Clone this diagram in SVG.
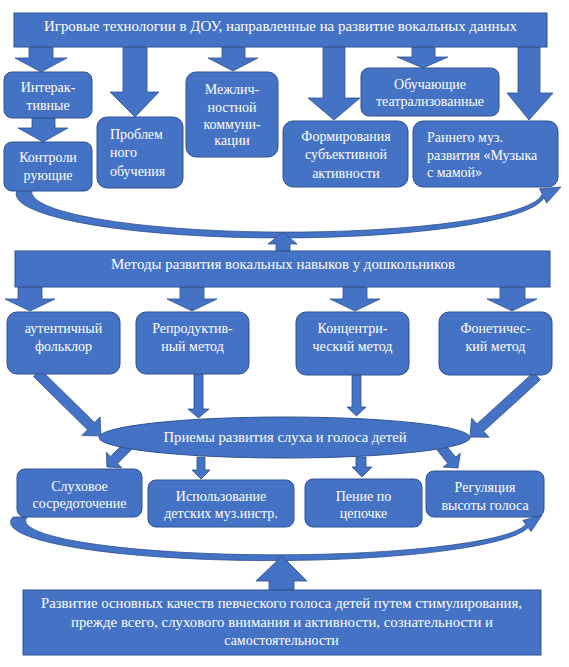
<svg xmlns="http://www.w3.org/2000/svg" width="569" height="667" viewBox="0 0 569 667">
<style>
.box{fill:#4472C4;stroke:#2F528F;stroke-width:1}
.arr{fill:#4472C4;stroke:#2F528F;stroke-width:0.8}
.t{font-family:'Liberation Serif','DejaVu Serif',serif;font-size:14px;fill:#ffffff}
.c{text-anchor:middle}
</style>
<rect width="569" height="667" fill="#ffffff"/>
<g id="connectors">
<path class="arr" d="M17 190 A264 44 0 0 0 544 197.7 L546.7 203 L561 187 L539.5 188.7 L542.2 194.1 A255 40 0 0 1 32 190 Z"/>
<path class="arr" d="M13 517 A258 38 0 0 0 528.2 527.6 L531.1 531.6 L542 515 L522.9 520.4 L525.8 524.4 A250 34 0 0 1 27 517 Z"/>
<path class="arr" d="M29 47 H53 V58 H67 L41 72 L15 58 H29 Z"/>
<path class="arr" d="M123 47 H147 V92 H159 L135 117 L110 92 H123 Z"/>
<path class="arr" d="M222 47 H245 V58 H258 L233 71 L208 58 H222 Z"/>
<path class="arr" d="M323 47 H345 V98 H360 L334 120 L308 98 H323 Z"/>
<path class="arr" d="M412 47 H435 V57 H448 L423 68 L397 57 H412 Z"/>
<path class="arr" d="M518 47 H540 V93 H553 L529 120 L507 93 H518 Z"/>
<path class="arr" d="M32 118 H55 V128 H68 L43 142 L18 128 H32 Z"/>
<path class="arr" d="M276 251 V244 H268 L283 232 L297 244 H290 V251 Z"/>
<path class="arr" d="M18 287 H42 V299 H55 L30 311 L5 299 H18 Z"/>
<path class="arr" d="M180 287 H204 V299 H217 L192 311 L167 299 H180 Z"/>
<path class="arr" d="M343 287 H367 V299 H380 L355 311 L330 299 H343 Z"/>
<path class="arr" d="M500 287 H525 V299 H537 L512 311 L487 299 H500 Z"/>
<path class="arr" d="M33.5 376.6 L87.5 429.8 L81.9 435.5 L101 436 L100.1 416.9 L94.5 422.6 L40.5 369.4 Z"/>
<path class="arr" d="M194 374 H203 V409 H209 L198.5 418 L188 409 H194 Z"/>
<path class="arr" d="M352 375 H361 V407 H366 L356.5 416 L347 407 H352 Z"/>
<path class="arr" d="M533.6 372.3 L477 423.9 L471.6 418 L470 437 L489.1 437.2 L483.7 431.3 L540.4 379.7 Z"/>
<path class="arr" d="M124.5 442.5 L110.5 456.4 L106.3 452.2 L107 467 L121.9 467.7 L117.6 463.5 L131.5 449.5 Z"/>
<path class="arr" d="M197 457 H205 V470 H210 L201 479 L192 470 H197 Z"/>
<path class="arr" d="M356 457 H366 V467 H372 L362 477 L352 467 H356 Z"/>
<path class="arr" d="M437.1 450.2 L447.8 463.4 L443.1 467.1 L458 468 L460.3 453.3 L455.6 457.1 L444.9 443.9 Z"/>
<path class="arr" d="M269 590 V581 H256 L282 556 L307 581 H294 V590 Z"/>
</g>
<g id="n-top">
<rect class="box" x="14" y="13" width="533" height="34"/>
<text class="t c" x="280.5" y="31" textLength="473" lengthAdjust="spacingAndGlyphs">Игровые технологии в ДОУ, направленные на развитие вокальных данных</text>
</g>
<g id="n-interakt">
<rect class="box" x="4" y="72" width="88" height="46" rx="8"/>
<text class="t c" x="48" y="92">Интерак-</text>
<text class="t c" x="48" y="110">тивные</text>
</g>
<g id="n-kontrol">
<rect class="box" x="4" y="142" width="88" height="49" rx="8"/>
<text class="t c" x="48" y="162">Контроли</text>
<text class="t c" x="48" y="180">рующие</text>
</g>
<g id="n-problem">
<rect class="box" x="97" y="117" width="86" height="71" rx="10"/>
<text class="t" x="110" y="139">Проблем</text>
<text class="t" x="110" y="157">ного</text>
<text class="t" x="110" y="176">обучения</text>
</g>
<g id="n-mezhlich">
<rect class="box" x="186" y="72" width="92" height="85" rx="10"/>
<text class="t c" x="232" y="94">Межлич-</text>
<text class="t c" x="232" y="112">ностной</text>
<text class="t c" x="232" y="129">коммуни-</text>
<text class="t c" x="232" y="145">кации</text>
</g>
<g id="n-form">
<rect class="box" x="283" y="121" width="125" height="66" rx="10"/>
<text class="t c" x="346" y="141">Формирования</text>
<text class="t c" x="346" y="159">субъективной</text>
<text class="t c" x="346" y="178">активности</text>
</g>
<g id="n-obuch">
<rect class="box" x="361" y="68" width="138" height="48" rx="8"/>
<text class="t c" x="430" y="89">Обучающие</text>
<text class="t c" x="430" y="106">театрализованные</text>
</g>
<g id="n-rannego">
<rect class="box" x="413" y="121" width="145" height="66" rx="10"/>
<text class="t" x="427" y="142">Раннего муз.</text>
<text class="t" x="427" y="160">развития «Музыка</text>
<text class="t" x="427" y="177">с мамой»</text>
</g>
<g id="n-metody">
<rect class="box" x="15" y="251" width="535" height="36"/>
<text class="t c" x="283" y="269" textLength="344" lengthAdjust="spacingAndGlyphs">Методы развития вокальных навыков у дошкольников</text>
</g>
<g id="n-autent">
<rect class="box" x="7" y="312" width="113" height="62" rx="10"/>
<text class="t c" x="63.5" y="333">аутентичный</text>
<text class="t c" x="63.5" y="351">фольклор</text>
</g>
<g id="n-reprod">
<rect class="box" x="136" y="312" width="113" height="62" rx="10"/>
<text class="t c" x="192.5" y="333">Репродуктив-</text>
<text class="t c" x="192.5" y="351">ный метод</text>
</g>
<g id="n-koncentr">
<rect class="box" x="296" y="312" width="113" height="63" rx="10"/>
<text class="t c" x="352.5" y="333">Концентри-</text>
<text class="t c" x="352.5" y="351">ческий метод</text>
</g>
<g id="n-fonet">
<rect class="box" x="439" y="312" width="113" height="63" rx="10"/>
<text class="t c" x="495.5" y="333">Фонетичес-</text>
<text class="t c" x="495.5" y="351">кий метод</text>
</g>
<g id="n-priemy">
<ellipse class="box" cx="284.5" cy="437.5" rx="185.5" ry="20.5"/>
<text class="t c" x="285" y="442" textLength="243" lengthAdjust="spacingAndGlyphs">Приемы развития слуха и голоса детей</text>
</g>
<g id="n-sluh">
<rect class="box" x="17" y="469" width="125" height="48" rx="8"/>
<text class="t c" x="79.5" y="491">Слуховое</text>
<text class="t c" x="79.5" y="508">сосредоточение</text>
</g>
<g id="n-ispolz">
<rect class="box" x="148" y="480" width="146" height="47" rx="8"/>
<text class="t c" x="221" y="501">Использование</text>
<text class="t c" x="221" y="518">детских муз.инстр.</text>
</g>
<g id="n-penie">
<rect class="box" x="305" y="479" width="117" height="48" rx="8"/>
<text class="t c" x="363.5" y="501">Пение по</text>
<text class="t c" x="363.5" y="518">цепочке</text>
</g>
<g id="n-regul">
<rect class="box" x="426" y="471" width="118" height="46" rx="8"/>
<text class="t c" x="485" y="492">Регуляция</text>
<text class="t c" x="485" y="510">высоты голоса</text>
</g>
<g id="n-razvitie">
<rect class="box" x="23" y="590" width="518" height="65"/>
<text class="t c" x="281.5" y="608" textLength="481" lengthAdjust="spacingAndGlyphs">Развитие основных качеств певческого голоса детей путем стимулирования,</text>
<text class="t c" x="282" y="627" textLength="422" lengthAdjust="spacingAndGlyphs">прежде всего, слухового внимания и активности, сознательности и</text>
<text class="t c" x="281.5" y="645">самостоятельности</text>
</g>
</svg>
